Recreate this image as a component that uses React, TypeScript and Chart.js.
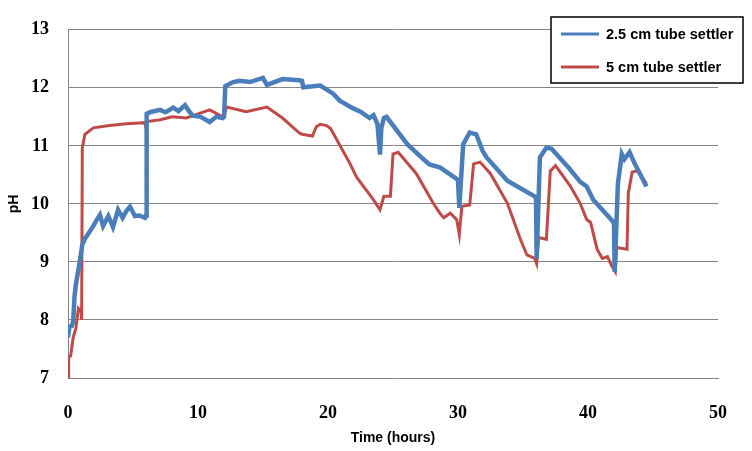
import { useEffect, useRef } from "react";
import { Chart, registerables } from "chart.js";

Chart.register(...registerables);

const seriesNames = ["2.5 cm tube settler", "5 cm tube settler"];

const blueTimes = [
  0, 0.1, 0.3, 0.4, 0.5, 0.6, 0.9, 1.1, 1.3, 1.6, 1.95, 2.2, 2.46, 2.7, 3.1, 3.46, 3.85, 4.2, 4.5, 4.77,
  5.15, 5.5, 5.92, 6.0, 6.05, 6.3, 7.08, 7.5, 8.1, 8.5, 9.0, 9.3, 9.6, 10.2, 10.9, 11.4, 11.9, 12.0, 12.1,
  12.7, 13.2, 14, 15, 15.3, 16.5, 17.8, 18.0, 18.1, 19.4, 20.4, 20.9, 21.9, 22.5, 23.2, 23.5, 23.8, 24.0,
  24.1, 24.3, 24.5, 26.1, 27.1, 27.8, 28.6, 29.9, 30.0, 30.1, 30.4, 30.9, 31.4, 31.9, 32.2, 33.8, 34.8,
  35.9, 36.0, 36.05, 36.3, 36.8, 37.2, 38.6, 39.4, 39.9, 40.4, 41.9, 42.0, 42.05, 42.3, 42.6, 42.8, 43.2,
  43.6, 44.5,
];
const bluePH = [
  7.7, 7.88, 7.9, 7.98, 8.4, 8.6, 9.0, 9.3, 9.4, 9.5, 9.62, 9.72, 9.81, 9.62, 9.79, 9.6, 9.9, 9.76, 9.88, 9.95,
  9.79, 9.8, 9.76, 9.8, 11.55, 11.58, 11.62, 11.58, 11.66, 11.6, 11.7, 11.6, 11.52, 11.5, 11.41, 11.5, 11.48, 11.5, 12.03,
  12.1, 12.12, 12.1, 12.17, 12.05, 12.15, 12.13, 12.12, 12.01, 12.04, 11.9, 11.78, 11.65, 11.59, 11.48, 11.53, 11.38, 10.85,
  11.3, 11.48, 11.5, 11.03, 10.82, 10.68, 10.63, 10.43, 10.4, 9.93, 11.03, 11.23, 11.2, 10.91, 10.8, 10.4, 10.27,
  10.13, 10.1, 9.05, 10.8, 10.97, 10.95, 10.6, 10.38, 10.3, 10.07, 9.7, 9.65, 8.83, 10.35, 10.86, 10.77, 10.89,
  10.69, 10.3,
];

const redTimes = [
  0, 0.05, 0.2, 0.4, 0.6, 0.8, 1.0, 1.05, 1.1, 1.3, 1.95, 3.2, 4.5, 5.9, 6.0, 6.1, 7.1, 8.0, 9.1, 10.0, 10.9,
  11.9, 12.0, 12.2, 13.7, 15.3, 16.5, 17.8, 18.0, 18.8, 19.1, 19.4, 19.9, 20.2, 21.7, 22.2, 23.5, 24.0, 24.3,
  24.8, 25.0, 25.4, 26.8, 28.1, 28.6, 28.9, 29.4, 29.9, 30.1, 30.3, 30.9, 31.2, 31.7, 32.5, 33.8, 34.8, 35.3,
  35.9, 36.05, 36.2, 36.8, 37.1, 37.5, 38.6, 39.4, 39.9, 40.2, 40.7, 41.1, 41.5, 41.8, 42.1, 42.2, 43.0, 43.1,
  43.4, 43.8, 44.5,
];
const redPH = [
  7.0, 7.36, 7.38, 7.7, 7.85, 8.2, 8.15, 8.0, 10.97, 11.2, 11.31, 11.35, 11.38, 11.4, 11.31, 11.42, 11.45, 11.5, 11.48, 11.55, 11.62,
  11.5, 11.52, 11.67, 11.59, 11.67, 11.48, 11.22, 11.2, 11.17, 11.33, 11.37, 11.35, 11.3, 10.69, 10.46, 10.07, 9.9, 10.13,
  10.13, 10.86, 10.89, 10.52, 10.01, 9.84, 9.76, 9.84, 9.73, 9.47, 9.96, 9.98, 10.69, 10.72, 10.52, 10.01, 9.39, 9.12,
  9.06, 8.97, 9.42, 9.39, 10.57, 10.66, 10.32, 10.01, 9.73, 9.68, 9.22, 9.06, 9.09, 8.94, 8.83, 9.25, 9.22, 10.18,
  10.55, 10.57, 10.35,
];

const xMin = 0;
const xMax = 50;
const xStep = 10;
const yMin = 7;
const yMax = 13;
const yStep = 1;

const BLUE = "#4A7EBB";
const RED = "#BE4B48";
const GRID = "#868686";
const TICK_FONT = { family: "'Liberation Serif', 'Times New Roman', serif", size: 18, weight: "bold" as const };
const TITLE_FONT = { family: "'Liberation Sans', Arial, sans-serif", size: 14, weight: "bold" as const };

const boxLegend = {
  id: "boxLegend",
  afterDraw(chart: any) {
    const ctx = chart.ctx as CanvasRenderingContext2D;
    const bx = 551, by = 17, bw = 192, bh = 66;
    ctx.save();
    ctx.fillStyle = "#ffffff";
    ctx.fillRect(bx, by, bw, bh);
    ctx.strokeStyle = "#000000";
    ctx.lineWidth = 1.5;
    ctx.strokeRect(bx, by, bw, bh);
    chart.data.datasets.forEach((ds: any, i: number) => {
      const y = by + 17 + i * 33;
      ctx.strokeStyle = ds.borderColor;
      ctx.lineWidth = 3;
      ctx.beginPath();
      ctx.moveTo(bx + 10, y);
      ctx.lineTo(bx + 48, y);
      ctx.stroke();
      ctx.fillStyle = "#000000";
      ctx.font = "bold 14.5px 'Liberation Sans', Arial, sans-serif";
      ctx.textBaseline = "middle";
      ctx.textAlign = "left";
      ctx.fillText(ds.label, bx + 55, y + 1);
    });
    ctx.restore();
  },
};

export default function App() {
  const ref = useRef<HTMLCanvasElement | null>(null);
  useEffect(() => {
    if (!ref.current) return;
    const chart = new Chart(ref.current, {
      type: "line",
      data: {
        datasets: [
          {
            label: seriesNames[0],
            data: blueTimes.map((t, i) => ({ x: t, y: bluePH[i] })),
            borderColor: BLUE,
            backgroundColor: BLUE,
            borderWidth: 4.5,
            pointRadius: 0,
            tension: 0,
          },
          {
            label: seriesNames[1],
            data: redTimes.map((t, i) => ({ x: t, y: redPH[i] })),
            borderColor: RED,
            backgroundColor: RED,
            borderWidth: 3,
            pointRadius: 0,
            tension: 0,
          },
        ],
      },
      options: {
        responsive: false,
        animation: false,
        devicePixelRatio: 1,
        layout: { padding: { top: 23, right: 33, left: 0, bottom: 0 } },
        plugins: { legend: { display: false }, tooltip: { enabled: false } },
        scales: {
          x: {
            type: "linear",
            min: xMin,
            max: xMax,
            ticks: { stepSize: xStep, font: TICK_FONT, color: "#000", padding: 25, maxRotation: 0 },
            grid: { display: false, drawTicks: false },
            border: { display: true, color: GRID, width: 1 },
            title: { display: true, text: "Time (hours)", font: TITLE_FONT, color: "#000", padding: { top: 0, bottom: 4 } },
            afterFit: (s: any) => { s.height = 73; },
          },
          y: {
            type: "linear",
            min: yMin,
            max: yMax,
            ticks: { stepSize: yStep, font: TICK_FONT, color: "#000", padding: 19 },
            grid: { color: GRID, lineWidth: 1, drawTicks: false },
            border: { display: true, color: GRID, width: 1 },
            title: { display: true, text: "pH", font: TITLE_FONT, color: "#000", padding: { top: 6, bottom: 0 } },
            afterFit: (s: any) => { s.width = 68; },
          },
        },
      },
      plugins: [boxLegend],
    });
    return () => chart.destroy();
  }, []);
  return (
    <div style={{ position: "fixed", left: 0, top: 0, width: 752, height: 451, background: "#fff" }}>
      <canvas ref={ref} width={752} height={451} style={{ width: 752, height: 451, display: "block" }} />
    </div>
  );
}
